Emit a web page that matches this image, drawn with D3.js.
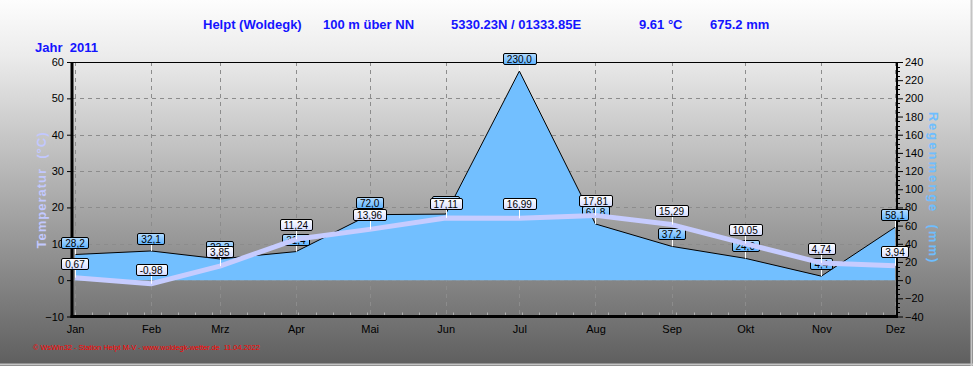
<!DOCTYPE html>
<html><head><meta charset="utf-8">
<script src="https://cdn.jsdelivr.net/npm/d3@7/dist/d3.min.js"></script>
<style>
html,body{margin:0;padding:0;background:#fff;}
svg{display:block;font-family:"Liberation Sans",Arial,sans-serif;}
</style></head>
<body>
<svg id="chart" width="973" height="366"></svg>
<script>
// ---- data ----
const months = ["Jan","Feb","Mrz","Apr","Mai","Jun","Jul","Aug","Sep","Okt","Nov","Dez"];
const temperature = [0.67,-0.98,3.85,11.24,13.96,17.11,16.99,17.81,15.29,10.05,4.74,3.94];
const rainfall = [28.2,32.1,23.3,31.4,72.0,72.7,230.0,61.8,37.2,24.0,4.4,58.1];
const tempTicks = [-10,0,10,20,30,40,50,60];
const rainTicks = [-40,-20,0,20,40,60,80,100,120,140,160,180,200,220,240];
const titleParts = ["Helpt (Woldegk)","100 m über NN","5330.23N / 01333.85E","9.61 °C","675.2 mm"];
const yearLabel = "Jahr  2011";
const footer = "© WsWin32 - Station Helpt M-V - www.woldegk-wetter.de  11.04.2022";

const svg = d3.select("#chart");
const W = 973, H = 366;
const L = 72, R = 897, T = 62, B = 316.5;

const defs = svg.append("defs");
const bg = defs.append("linearGradient").attr("id","bg").attr("x1",0).attr("y1",0).attr("x2",0).attr("y2",1);
bg.append("stop").attr("offset","0%").attr("stop-color","#fdfdfd");
bg.append("stop").attr("offset","15%").attr("stop-color","#ececec");
bg.append("stop").attr("offset","100%").attr("stop-color","#5e5e5e");
const gT = defs.append("linearGradient").attr("id","gT").attr("x1",0).attr("y1",0).attr("x2",0).attr("y2",1);
gT.append("stop").attr("offset","0%").attr("stop-color","#ffffff");
gT.append("stop").attr("offset","100%").attr("stop-color","#d6dcff");
const gR = defs.append("linearGradient").attr("id","gR").attr("x1",0).attr("y1",0).attr("x2",0).attr("y2",1);
gR.append("stop").attr("offset","0%").attr("stop-color","#b4dcff");
gR.append("stop").attr("offset","100%").attr("stop-color","#5cb2ff");

svg.append("rect").attr("width",W).attr("height",H).attr("fill","url(#bg)");
svg.append("line").attr("x1",0).attr("x2",W).attr("y1",H-1.5).attr("y2",H-1.5).attr("stroke","#c4c4c4").attr("stroke-width",2);
svg.append("line").attr("x1",W-1.5).attr("x2",W-1.5).attr("y1",0).attr("y2",H).attr("stroke","#c4c4c4").attr("stroke-width",2);

const dates = months.map((m,i)=>new Date(2011,i,1));
const x = d3.scaleTime().domain([dates[0],dates[11]]).range([75,895]);
const yT = d3.scaleLinear().domain([-10,60]).range([B,T]);
const yR = d3.scaleLinear().domain([-40,240]).range([B,T]);

// grid
const grid = svg.append("g").attr("stroke","#8c8c8c").attr("stroke-dasharray","4,4").attr("stroke-width",1);
grid.selectAll("line.h").data(tempTicks.filter(t=>t>-10 && t<60)).join("line")
  .attr("x1",L).attr("x2",R).attr("y1",d=>Math.round(yT(d))+0.5).attr("y2",d=>Math.round(yT(d))+0.5);
grid.selectAll("line.v").data(dates).join("line")
  .attr("x1",d=>Math.round(x(d))+0.5).attr("x2",d=>Math.round(x(d))+0.5).attr("y1",T).attr("y2",B);

// rain area
const area = d3.area().x((d,i)=>x(dates[i])).y0(yR(0)).y1(d=>yR(d));
svg.append("path").datum(rainfall).attr("d",area).attr("fill","#72bfff");
const rline = d3.line().x((d,i)=>x(dates[i])).y(d=>yR(d));
svg.append("path").datum(rainfall).attr("d",rline).attr("fill","none").attr("stroke","#000").attr("stroke-width",1);

// axes
const axL = svg.append("g").attr("transform",`translate(${L},0)`)
  .call(d3.axisLeft(yT).tickValues(tempTicks).tickSize(5).tickPadding(3).tickFormat(d3.format("d")));
const axR = svg.append("g").attr("transform",`translate(${R},0)`)
  .call(d3.axisRight(yR).tickValues(rainTicks).tickSize(6).tickPadding(2).tickFormat(d3.format("d")));
const axB = svg.append("g").attr("transform",`translate(0,${B})`)
  .call(d3.axisBottom(x).tickValues(dates).tickSize(0).tickPadding(9).tickFormat((d,i)=>months[i]));
[axL,axR,axB].forEach(a=>{
  a.select(".domain").remove();
  a.selectAll("text").attr("font-size","11px").attr("fill","#000").style("font-family","'Liberation Sans',Arial,sans-serif");
  a.selectAll("line").attr("stroke","#000");
});
svg.append("g").selectAll("line").data(d3.range(-40,241,5).filter(v=>v%20!==0)).join("line")
  .attr("x1",R).attr("x2",R+3).attr("y1",d=>Math.round(yR(d))+0.5).attr("y2",d=>Math.round(yR(d))+0.5)
  .attr("stroke","#000");
const weeks = d3.timeDay.range(new Date(2011,0,1), new Date(2011,11,2), 7);
svg.append("g").selectAll("line").data(weeks).join("line")
  .attr("x1",d=>Math.round(x(d))+0.5).attr("x2",d=>Math.round(x(d))+0.5).attr("y1",B-4).attr("y2",B-1)
  .attr("stroke","#b0b0b0");

// frame
svg.append("line").attr("x1",L).attr("x2",R).attr("y1",T+0.5).attr("y2",T+0.5).attr("stroke","#000");
svg.append("line").attr("x1",L).attr("x2",L).attr("y1",T).attr("y2",B+1.5).attr("stroke","#000").attr("stroke-width",3);
svg.append("line").attr("x1",L-1.5).attr("x2",R+1).attr("y1",B).attr("y2",B).attr("stroke","#000").attr("stroke-width",3);
svg.append("line").attr("x1",R).attr("x2",R).attr("y1",T).attr("y2",B+1.5).attr("stroke","#000").attr("stroke-width",2);

// label helper
function labels(values, scale, fmt, fill, gap, cls){
  const g = svg.append("g").attr("class",cls);
  values.forEach((v,i)=>{
    const px = x(dates[i]), py = scale(v);
    const bottom = Math.round(py - gap);
    const gg = g.append("g");
    gg.append("line").attr("x1",Math.round(px)+0.5).attr("x2",Math.round(px)+0.5)
      .attr("y1",bottom).attr("y2",py).attr("stroke","#fff").attr("stroke-width",1);
    const rect = gg.append("rect");
    const t = gg.append("text").attr("x",px).attr("y",bottom-2.5).attr("text-anchor","middle")
      .attr("font-size","10px").attr("fill","#000").text(fmt(v));
    const w = t.node().getComputedTextLength() + 8;
    rect.attr("x",Math.round(px - w/2)+0.5).attr("y",bottom-11.5).attr("width",Math.round(w)).attr("height",11)
      .attr("rx",1.5).attr("fill",fill).attr("stroke","#000").attr("stroke-width",1);
  });
}
const fmtR = v=>d3.format(".1f")(v).replace(".",",");
const fmtT = v=>d3.format(".2f")(v).replace(".",",").replace("−","-");

labels(rainfall, yR, fmtR, "url(#gR)", 6, "rl");

// temperature line
const tline = d3.line().x((d,i)=>x(dates[i])).y(d=>yT(d));
svg.append("path").datum(temperature).attr("d",tline).attr("fill","none")
  .attr("stroke","#c6ccff").attr("stroke-width",5).attr("stroke-linejoin","round");

labels(temperature, yT, fmtT, "url(#gT)", 8, "tl");

// axis titles
svg.append("text").attr("transform","translate(46,190) rotate(-90)").attr("text-anchor","middle")
  .attr("font-size","13px").attr("font-weight","bold").attr("fill","#c2c8ff").attr("letter-spacing","1px")
  .style("white-space","pre").text("Temperatur  (°C)");
svg.append("text").attr("transform","translate(929,188) rotate(90)").attr("text-anchor","middle")
  .attr("font-size","13px").attr("font-weight","bold").attr("fill","#6ebeff").attr("letter-spacing","2px")
  .style("white-space","pre").text("Regenmenge  (mm)");

// title
const titleX = [203,323,451,639,710];
svg.append("g").selectAll("text").data(titleParts).join("text")
  .attr("x",(d,i)=>titleX[i]).attr("y",29).attr("font-size","13px").attr("font-weight","bold")
  .attr("fill","#1414ff").text(d=>d);
svg.append("text").attr("x",35).attr("y",52).attr("font-size","13px").attr("font-weight","bold")
  .attr("fill","#1414ff").style("white-space","pre").text(yearLabel);
svg.append("text").attr("x",33).attr("y",350).attr("font-size","7.5px").attr("fill","#ff0000")
  .attr("textLength",227).style("white-space","pre").text(footer);
</script>
</body></html>
